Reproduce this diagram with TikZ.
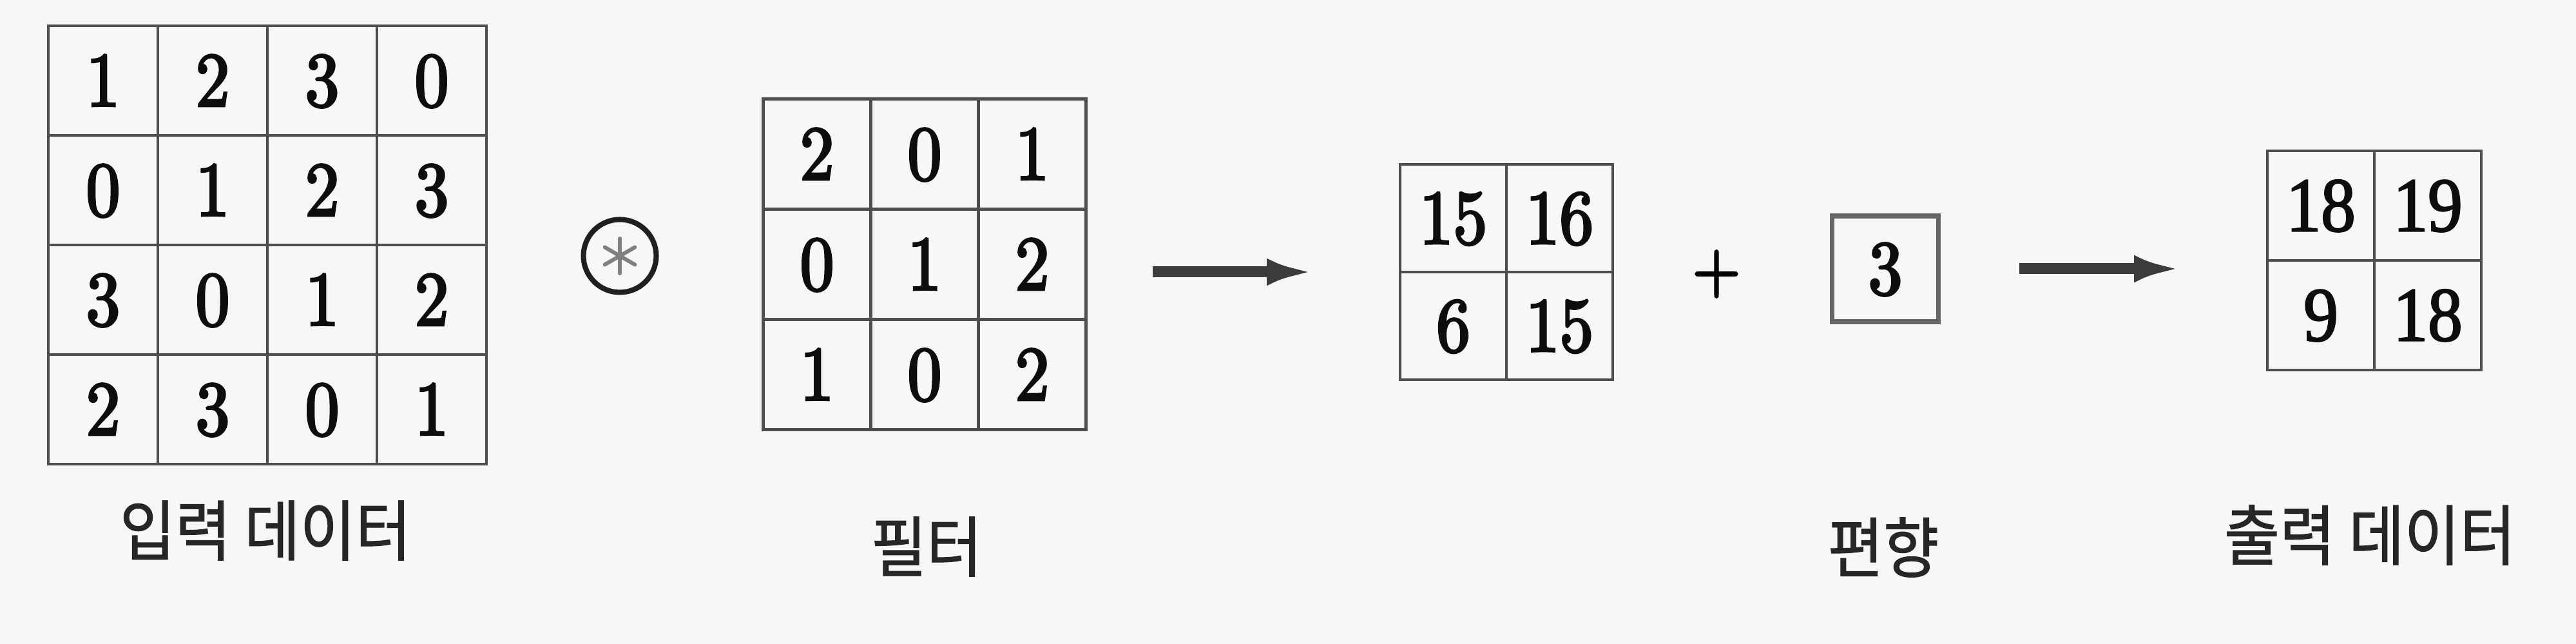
\documentclass[tikz,border=0pt]{standalone}
\usepackage{fontspec}
\usetikzlibrary{matrix,arrows.meta}
\newfontfamily\numfont[FakeStretch=0.88,FakeBold=3]{lmroman10-regular.otf}
\newfontfamily\outfont[FakeStretch=0.9,FakeBold=2]{Liberation Serif}
\newfontfamily\krfont[FakeStretch=0.92,FakeBold=1.2]{Noto Sans CJK KR}
\definecolor{paper}{HTML}{F8F7F7}
\definecolor{ink}{HTML}{3C3A3B}
\definecolor{gridc}{HTML}{4F4D4E}
\tikzset{
  cellgrid/.style 2 args={matrix of nodes, inner sep=0pt, column sep=-1.3pt, row sep=-1.3pt,
    nodes={draw=gridc, line width=1.3pt, inner sep=0pt, minimum width=#1, minimum height=#2,
      text height=22.5pt, text depth=0pt,
      text=black!95, font=\numfont\fontsize{34}{37}\selectfont}},
  lab/.style={font=\krfont\fontsize{29}{32}\selectfont, text=black!85},
  arr/.style={-{Latex[length=7.3mm,width=4.2mm]}, line width=1.7mm, draw=ink},
  star/.style={line width=0.6mm, draw=black!50, line cap=round}
}
\begin{document}
\begin{tikzpicture}
\fill[paper] (0,0) rectangle (39.98,9.99);
% input data
\matrix (inp) [cellgrid={1.70cm}{1.70cm}] at (4.15,6.19) {
  1 & 2 & 3 & 0 \\
  0 & 1 & 2 & 3 \\
  3 & 0 & 1 & 2 \\
  2 & 3 & 0 & 1 \\
};
\node[lab] (inplab) at (4.12,1.76) {입력 데이터};
% convolution operator
\node[circle, draw=black!88, line width=2.3pt, minimum size=1.13cm, inner sep=0pt] (op) at (9.62,6.02) {};
\draw[star] (op.center) ++(90:0.27) -- ++(270:0.54);
\draw[star] (op.center) ++(30:0.27) -- ++(210:0.54);
\draw[star] (op.center) ++(150:0.27) -- ++(330:0.54);
% filter
\matrix (flt) [cellgrid={1.67cm}{1.71cm}] at (14.35,5.89) {
  2 & 0 & 1 \\
  0 & 1 & 2 \\
  1 & 0 & 2 \\
};
\node[lab] (fltlab) at (14.38,1.51) {필터};
% result of the convolution
\matrix (fmap) [cellgrid={1.65cm}{1.67cm}] at (23.38,5.77) {
  15 & 16 \\
  6 & 15 \\
};
\node[font=\numfont\fontsize{31}{34}\selectfont] (plus) at (26.64,5.74) {+};
% bias
\node[draw=black!60, line width=2pt, minimum width=1.65cm, minimum height=1.64cm, inner sep=0pt,
  text height=22.5pt, text depth=0pt, text=black!95, font=\numfont\fontsize{34}{37}\selectfont] (bias) at (29.26,5.82) {3};
\node[lab] (biaslab) at (29.23,1.50) {편향};
% output data
\matrix (out) [cellgrid={1.66cm}{1.70cm}, nodes={font=\outfont\fontsize{34}{37}\selectfont}] at (36.85,5.95) {
  18 & 19 \\
  9 & 18 \\
};
\node[lab] (outlab) at (36.78,1.69) {출력 데이터};
\draw[arr, shorten <=1cm, shorten >=1.31cm] (flt.east |- fmap.west) -- (fmap.west);
\draw[arr, shorten <=1.22cm, shorten >=1.31cm] (bias.east) -- (bias.east -| out.west);
\end{tikzpicture}
\end{document}
